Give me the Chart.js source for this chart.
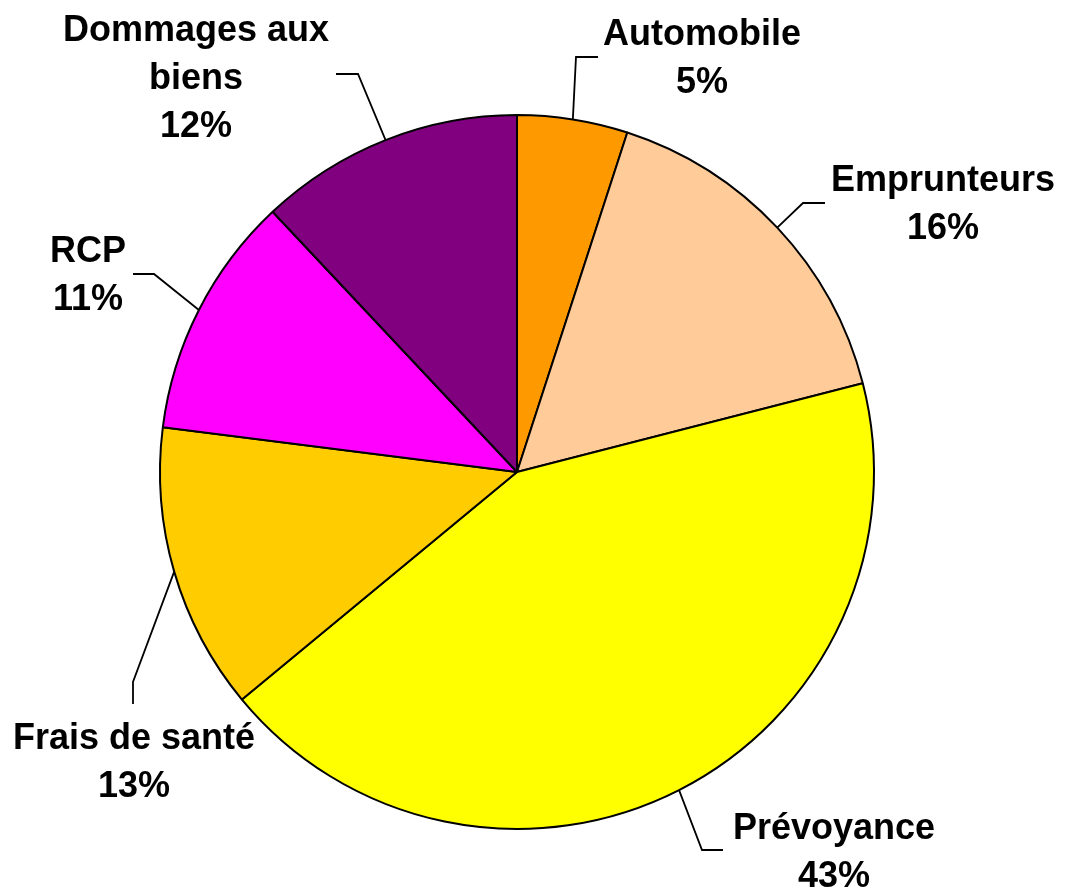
<!DOCTYPE html>
<html>
<head>
<meta charset="utf-8">
<script src="https://cdn.jsdelivr.net/npm/chart.js@4.4.0/dist/chart.umd.min.js"></script>
<style>
  html, body { margin: 0; padding: 0; background: #fff; }
  #wrap { width: 1067px; height: 890px; position: relative; }
</style>
</head>
<body>
<div id="wrap"><canvas id="pie"></canvas></div>
<script>
// categories, values (%) and slice colours, clockwise from 12 o'clock
const categories = ['Automobile', 'Emprunteurs', 'Prévoyance', 'Frais de santé', 'RCP', 'Dommages aux biens'];
const shares = [5, 16, 43, 13, 11, 12];
const colors = ['#FF9900', '#FFCC99', '#FFFF00', '#FFCC00', '#FF00FF', '#800080'];

// label text lines (name split as in the picture)
const labelLines = [['Automobile'], ['Emprunteurs'], ['Prévoyance'], ['Frais de santé'], ['RCP'], ['Dommages aux', 'biens']];

// label placement: text centre x, first baseline y, leader elbow and end
const labelLayout = [
  { tx: 702, ty: 45,  elbow: [576, 57],  end: [598, 57] },
  { tx: 943, ty: 191, elbow: [803, 203], end: [825, 203] },
  { tx: 834, ty: 839, elbow: [702, 850], end: [723, 850] },
  { tx: 134, ty: 749, elbow: [133, 682], end: [133, 704] },
  { tx: 88,  ty: 262, elbow: [154, 274], end: [133, 274] },
  { tx: 196, ty: 41,  elbow: [358, 74],  end: [336, 74] }
];

/** ------------------------
 *  Labels + leader lines
 ------------------------ */
const leaderLabels = {
  id: 'leaderLabels',
  afterDraw(chart) {
    const ctx = chart.ctx;
    const arcs = chart.getDatasetMeta(0).data;
    ctx.save();
    ctx.strokeStyle = '#000';
    ctx.lineWidth = 1.8;
    ctx.fillStyle = '#000';
    ctx.font = 'bold 36px "Liberation Sans", Arial, sans-serif';
    ctx.textAlign = 'center';
    ctx.textBaseline = 'alphabetic';
    arcs.forEach((arc, i) => {
      const p = arc.getProps(['x', 'y', 'startAngle', 'endAngle', 'outerRadius'], true);
      const mid = (p.startAngle + p.endAngle) / 2;
      const sx = p.x + Math.cos(mid) * p.outerRadius;
      const sy = p.y + Math.sin(mid) * p.outerRadius;
      const lay = labelLayout[i];
      ctx.beginPath();
      ctx.moveTo(sx, sy);
      ctx.lineTo(lay.elbow[0], lay.elbow[1]);
      ctx.lineTo(lay.end[0], lay.end[1]);
      ctx.stroke();
      const lines = labelLines[i].concat([shares[i] + '%']);
      lines.forEach((t, k) => ctx.fillText(t, lay.tx, lay.ty + k * 48));
    });
    ctx.restore();
  }
};

new Chart(document.getElementById('pie'), {
  type: 'pie',
  data: {
    labels: categories,
    datasets: [{
      data: shares,
      backgroundColor: colors,
      borderColor: '#000',
      borderWidth: 2
    }]
  },
  options: {
    responsive: true,
    maintainAspectRatio: false,
    animation: false,
    layout: { padding: { left: 159, right: 192, top: 114, bottom: 60 } },
    plugins: { legend: { display: false }, tooltip: { enabled: false } }
  },
  plugins: [leaderLabels]
});
</script>
</body>
</html>
